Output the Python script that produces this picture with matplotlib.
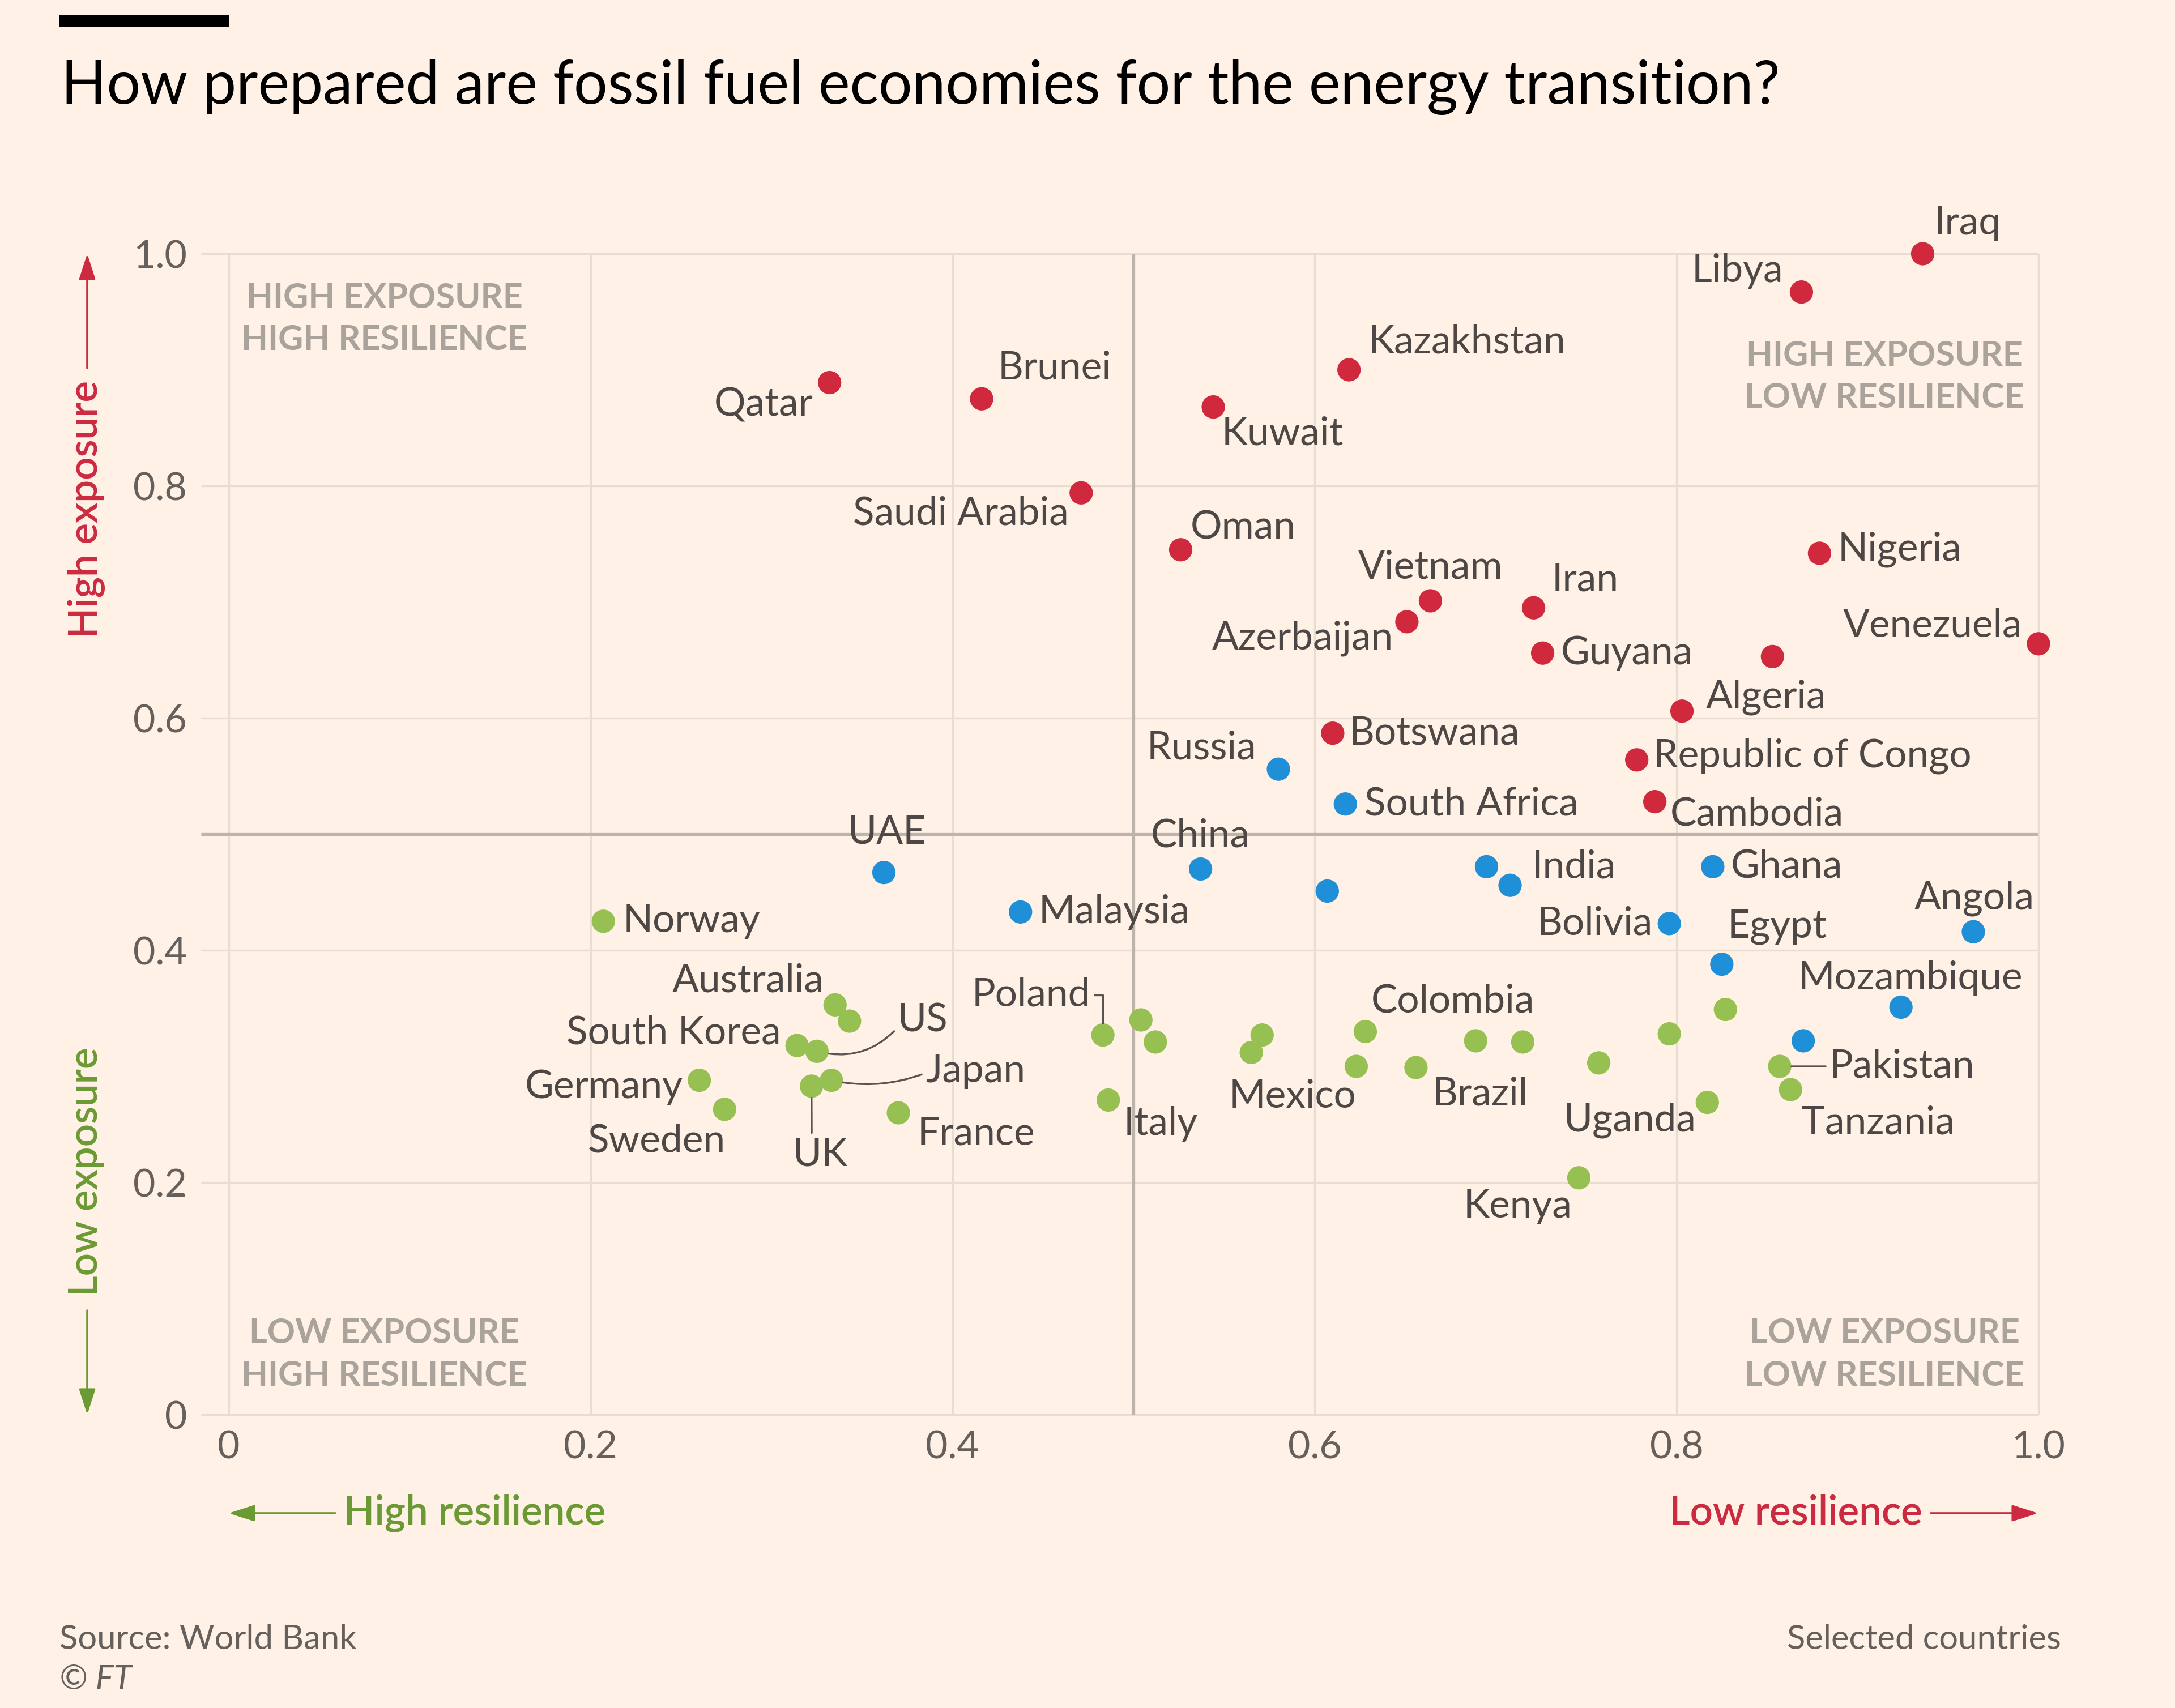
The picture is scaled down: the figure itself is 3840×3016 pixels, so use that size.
import matplotlib
matplotlib.use("Agg")
import matplotlib.pyplot as plt
import numpy as np

plt.rcParams['font.family'] = ['Lato', 'DejaVu Sans']

# ---------------- data ----------------
countries = ["Iraq", "Libya", "Kazakhstan", "Qatar", "Brunei", "Kuwait", "Saudi Arabia", "Oman",
             "Nigeria", "Vietnam", "Iran", "Azerbaijan", "Guyana", "", "Venezuela", "Algeria",
             "Botswana", "Republic of Congo", "Cambodia",
             "Russia", "South Africa", "UAE", "China", "", "", "India", "Ghana", "Malaysia",
             "Bolivia", "Angola", "Egypt", "Mozambique", "",
             "Norway", "Australia", "", "South Korea", "US", "Germany", "Sweden", "UK", "Japan",
             "France", "Poland", "", "", "Italy", "", "Mexico", "Colombia", "", "Brazil", "", "",
             "", "", "", "Uganda", "Pakistan", "Tanzania", "Kenya"]
resilience = [0.936, 0.869, 0.619, 0.332, 0.416, 0.544, 0.471, 0.526,
              0.879, 0.664, 0.721, 0.651, 0.726, 0.853, 1.000, 0.803,
              0.610, 0.778, 0.788,
              0.580, 0.617, 0.362, 0.537, 0.607, 0.695, 0.708, 0.820, 0.4375,
              0.796, 0.964, 0.825, 0.924, 0.870,
              0.207, 0.335, 0.343, 0.314, 0.325, 0.260, 0.274, 0.322, 0.333,
              0.370, 0.483, 0.504, 0.512, 0.486, 0.571, 0.565, 0.628, 0.623, 0.656, 0.689, 0.715,
              0.757, 0.796, 0.827, 0.817, 0.857, 0.863, 0.746]
exposure = [1.000, 0.967, 0.900, 0.889, 0.875, 0.868, 0.794, 0.745,
            0.742, 0.701, 0.695, 0.683, 0.656, 0.653, 0.664, 0.606,
            0.587, 0.564, 0.528,
            0.556, 0.526, 0.467, 0.470, 0.451, 0.472, 0.456, 0.472, 0.433,
            0.423, 0.416, 0.388, 0.351, 0.322,
            0.425, 0.353, 0.339, 0.318, 0.313, 0.288, 0.263, 0.283, 0.288,
            0.260, 0.327, 0.340, 0.321, 0.271, 0.327, 0.312, 0.330, 0.300, 0.299, 0.322, 0.321,
            0.303, 0.328, 0.349, 0.269, 0.300, 0.280, 0.204]
group = (["red"] * 19) + (["blue"] * 14) + (["green"] * 28)

x_ticks = [0, 0.2, 0.4, 0.6, 0.8, 1.0]
x_tick_labels = ["0", "0.2", "0.4", "0.6", "0.8", "1.0"]
y_ticks = [0, 0.2, 0.4, 0.6, 0.8, 1.0]
y_tick_labels = ["0", "0.2", "0.4", "0.6", "0.8", "1.0"]

# label placement: (dx px, dy px, ha)
label_pos = {
    "Iraq": (20, 54, "left"), "Libya": (-32, 37, "right"), "Kazakhstan": (34, 49, "left"),
    "Qatar": (-29, -39, "right"), "Brunei": (29, 54, "left"), "Kuwait": (15, -47, "left"),
    "Saudi Arabia": (-22, -37, "right"), "Oman": (17, 39, "left"), "Nigeria": (32, 7, "left"),
    "Vietnam": (0, 59, "center"), "Iran": (32, 49, "left"), "Azerbaijan": (-24, -29, "right"),
    "Guyana": (32, 0, "left"), "Venezuela": (-29, 32, "right"), "Algeria": (42, 24, "left"),
    "Botswana": (29, 0, "left"), "Republic of Congo": (29, 7, "left"), "Cambodia": (27, -22, "left"),
    "Russia": (-39, 37, "right"), "South Africa": (34, 0, "left"), "UAE": (5, 71, "center"),
    "China": (0, 59, "center"), "India": (39, 32, "left"), "Ghana": (32, 0, "left"),
    "Malaysia": (32, 0, "left"), "Bolivia": (-29, 0, "right"), "Angola": (2, 59, "center"),
    "Egypt": (10, 66, "left"), "Mozambique": (17, 51, "center"), "Tanzania": (20, -59, "left"),
    "Norway": (34, 0, "left"), "Australia": (-20, 42, "right"), "South Korea": (-29, 22, "right"),
    "Germany": (-29, -12, "right"), "Sweden": (2, -56, "right"), "France": (34, -37, "left"),
    "Italy": (27, -42, "left"), "Mexico": (73, -78, "center"), "Colombia": (10, 54, "left"),
    "Brazil": (29, -47, "left"), "Uganda": (-20, -32, "right"), "Kenya": (-12, -51, "right"),
}
leader_pos = {
    "US": (142, 54, "left", (0, 0.3), "arc3,rad=-0.3"),
    "Japan": (166, 16, "left", (0, 0.45), "arc3,rad=-0.15"),
    "UK": (15, -121, "center", (0.35, 1.0), "arc3,rad=0"),
    "Pakistan": (88, 0, "left", (0, 0.5), "arc3,rad=0"),
    "Poland": (-22, 71, "right", (1, 0.5), "angle,angleA=0,angleB=90,rad=0"),
}

# ---------------- style ----------------
W, H, DPI = 3840, 3016, 100
BG = "#fff1e5"
COL = {"red": "#d0283c", "blue": "#1f8fd8", "green": "#97c052"}
TXT = "#4d4845"
GRID = "#e8ddd3"
MID = "#bdb4ac"
RED_T = "#cc2a40"
GREEN_T = "#6b9a34"
QUAD = "#aaa39b"

fig = plt.figure(figsize=(W / DPI, H / DPI), dpi=DPI, facecolor=BG)

def fx(px):
    return px / W

def fy(py):
    return 1 - py / H

# axes: x from -0.0153 (px 355) to 1.0 (px 3599); y 0 (px 2498) to 1 (px 448)
ax_left, ax_right, ax_top, ax_bot = 355, 3599, 448, 2498
ax = fig.add_axes([fx(ax_left), fy(ax_bot), (ax_right - ax_left) / W, (ax_bot - ax_top) / H])
ax.set_facecolor(BG)
ax.set_xlim(-0.0153, 1.0)
ax.set_ylim(0, 1)
for s in ax.spines.values():
    s.set_visible(False)

for t in y_ticks:
    ax.plot([-0.0153, 1.0], [t, t], color=GRID, lw=2.4, zorder=0, solid_capstyle="butt", clip_on=False)
for t in x_ticks:
    ax.plot([t, t], [0, 1], color=GRID, lw=2.4, zorder=0, solid_capstyle="butt", clip_on=False)
ax.plot([-0.0153, 1.0], [0.5, 0.5], color=MID, lw=3.8, zorder=0.5, solid_capstyle="butt")
ax.plot([0.5, 0.5], [0, 1], color=MID, lw=3.8, zorder=0.5, solid_capstyle="butt")

ax.set_xticks(x_ticks)
ax.set_xticklabels(x_tick_labels)
ax.set_yticks(y_ticks)
ax.set_yticklabels(y_tick_labels)
ax.tick_params(length=0, labelsize=49, labelcolor="#66605c", pad=18)
ax.tick_params(axis="x", pad=20)

x = np.array(resilience)
y = np.array(exposure)
cols = [COL[g] for g in group]
ax.scatter(x, y, s=880, c=cols, linewidths=0, zorder=3, clip_on=False)

LFS = 50
for name, xi, yi in zip(countries, x, y):
    if name in label_pos:
        dx, dy, ha = label_pos[name]
        ax.annotate(name, (xi, yi), xytext=(dx, dy), textcoords="offset pixels",
                    ha=ha, va="center", fontsize=LFS, color=TXT, zorder=4)
    elif name in leader_pos:
        dx, dy, ha, rp, cs = leader_pos[name]
        ax.annotate(name, (xi, yi), xytext=(dx, dy), textcoords="offset pixels",
                    ha=ha, va="center", fontsize=LFS, color=TXT, zorder=4,
                    arrowprops=dict(arrowstyle="-", color="#5a5450", lw=2.4, relpos=rp,
                                    connectionstyle=cs, shrinkA=3, shrinkB=15))

# quadrant labels
QFS = 44
qkw = dict(ha="center", va="center", fontsize=QFS, fontweight="bold", color=QUAD,
           linespacing=1.4, zorder=1)
ax.text(0.086, 0.944, "HIGH EXPOSURE\nHIGH RESILIENCE", **qkw)
ax.text(0.915, 0.894, "HIGH EXPOSURE\nLOW RESILIENCE", **qkw)
ax.text(0.086, 0.052, "LOW EXPOSURE\nHIGH RESILIENCE", **qkw)
ax.text(0.915, 0.052, "LOW EXPOSURE\nLOW RESILIENCE", **qkw)

# direction labels with arrows
AFS = 51
arw = dict(arrowstyle="-|>,head_length=1.4,head_width=0.45", lw=2.6, shrinkA=0, shrinkB=0)
fig.text(fx(152), fy(899), "High exposure", rotation=90, ha="center", va="center",
         fontsize=AFS, fontweight="semibold", color=RED_T)
fig.add_artist(matplotlib.patches.FancyArrowPatch((fx(154), fy(650)), (fx(154), fy(448)),
               transform=fig.transFigure, color=RED_T, mutation_scale=20, **arw))
fig.text(fx(152), fy(2069), "Low exposure", rotation=90, ha="center", va="center",
         fontsize=AFS, fontweight="semibold", color=GREEN_T)
fig.add_artist(matplotlib.patches.FancyArrowPatch((fx(154), fy(2314)), (fx(154), fy(2498)),
               transform=fig.transFigure, color=GREEN_T, mutation_scale=20, **arw))
fig.text(fx(607), fy(2672), "High resilience", ha="left", va="center",
         fontsize=AFS, fontweight="semibold", color=GREEN_T)
fig.add_artist(matplotlib.patches.FancyArrowPatch((fx(592), fy(2672)), (fx(404), fy(2672)),
               transform=fig.transFigure, color=GREEN_T, mutation_scale=20, **arw))
fig.text(fx(3394), fy(2672), "Low resilience", ha="right", va="center",
         fontsize=AFS, fontweight="semibold", color=RED_T)
fig.add_artist(matplotlib.patches.FancyArrowPatch((fx(3409), fy(2672)), (fx(3598), fy(2672)),
               transform=fig.transFigure, color=RED_T, mutation_scale=20, **arw))

# title & bar
fig.add_artist(matplotlib.patches.Rectangle((fx(105), fy(47)), (404 - 105) / W, 20 / H,
               transform=fig.transFigure, color="#000000", lw=0))
fig.text(fx(108), fy(154), "How prepared are fossil fuel economies for the energy transition?",
         ha="left", va="center", fontsize=76, color="#000000")

# footer
fig.text(fx(105), fy(2895), "Source: World Bank", ha="left", va="center", fontsize=43, color="#66605c")
fig.text(fx(105), fy(2966), "© FT", ha="left", va="center", fontsize=43, color="#66605c", style="italic")
fig.text(fx(3639), fy(2895), "Selected countries", ha="right", va="center", fontsize=43, color="#66605c")

fig.savefig("out.png", dpi=DPI, facecolor=BG)
